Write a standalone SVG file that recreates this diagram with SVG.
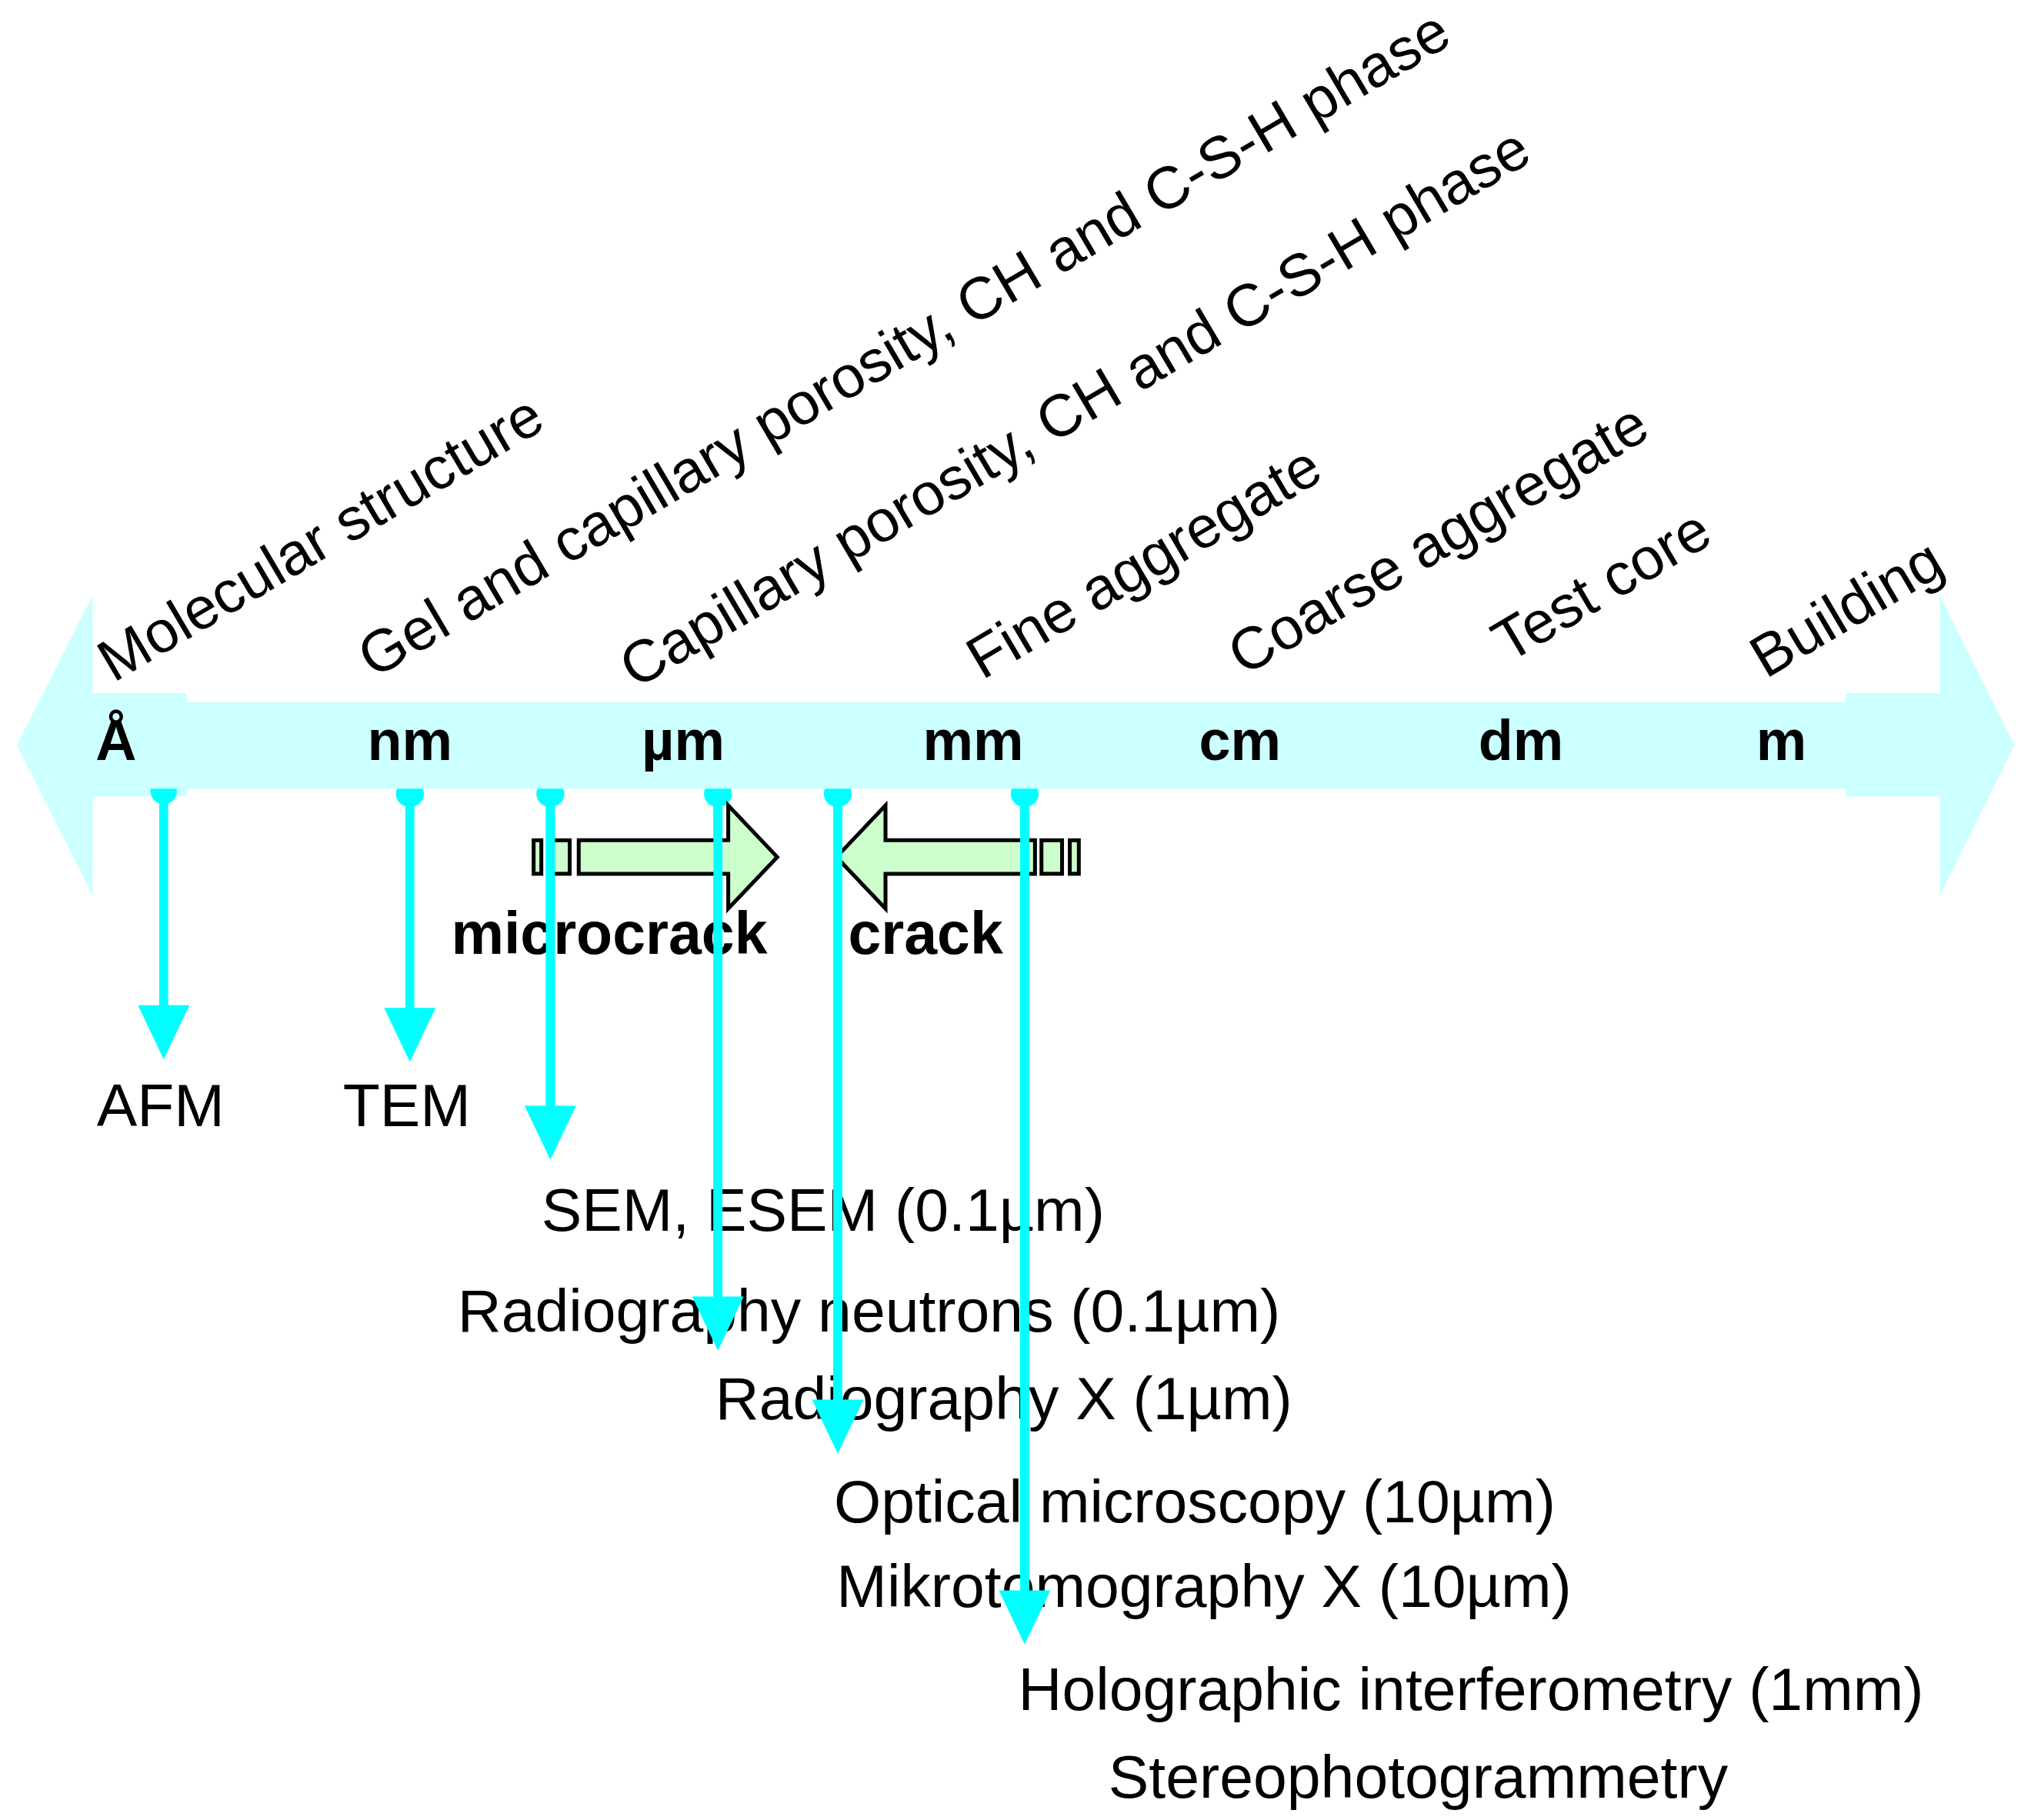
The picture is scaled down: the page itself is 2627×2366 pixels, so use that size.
<svg xmlns="http://www.w3.org/2000/svg" width="2627" height="2366" viewBox="0 0 2627 2366">
<style>
.u{font-family:"Liberation Sans",Arial,sans-serif;font-weight:bold;font-size:44px;fill:#000}
.r{font-family:"Liberation Sans",Arial,sans-serif;font-size:46px;fill:#000}
.m{font-family:"Liberation Sans",Arial,sans-serif;font-size:47px;fill:#000}
.b{font-family:"Liberation Sans",Arial,sans-serif;font-weight:bold;font-size:46px;fill:#000}
.ln{stroke:#00FFFF;stroke-width:7;fill:none}
.hd{fill:#00FFFF}
.g{fill:#CCFFCC;stroke:#000;stroke-width:3}
</style>
<rect width="2627" height="2366" fill="#fff"/>
<g transform="scale(1.6754)">
<g id="scale-bar">
<polygon fill="#CCFFFF" points="13,578 72,462 72,538 145,538 145,545 1432,545 1432,538 1505,538 1505,462 1563,578 1505,695 1505,618 1432,618 1432,612 145,612 145,618 72,618 72,695"/>
<text class="u" x="90" y="590" text-anchor="middle">Å</text>
<text class="u" x="318" y="590" text-anchor="middle">nm</text>
<text class="u" x="530" y="590" text-anchor="middle">µm</text>
<text class="u" x="755" y="590" text-anchor="middle">mm</text>
<text class="u" x="962" y="590" text-anchor="middle">cm</text>
<text class="u" x="1180" y="590" text-anchor="middle">dm</text>
<text class="u" x="1382" y="590" text-anchor="middle">m</text>
</g>
<g id="structure-labels">
<text class="r" transform="translate(88,530) rotate(-30.5)">Molecular structure</text>
<text class="r" transform="translate(290,527) rotate(-30.5)">Gel and capillary porosity, CH and C-S-H phase</text>
<text class="r" transform="translate(493,535) rotate(-30.5)">Capillary porosity, CH and C-S-H phase</text>
<text class="r" transform="translate(762,528) rotate(-30.5)">Fine aggregate</text>
<text class="r" transform="translate(965,525) rotate(-30.5)">Coarse aggregate</text>
<text class="r" transform="translate(1170,515) rotate(-30.5)">Test core</text>
<text class="r" transform="translate(1370,527) rotate(-30.5)">Building</text>
</g>
<g id="methods">
<text class="m" x="75" y="874">AFM</text>
<text class="m" x="266" y="874">TEM</text>
<text class="m" x="420" y="955">SEM, ESEM (0.1µm)</text>
<text class="m" x="355" y="1033">Radiography neutrons (0.1µm)</text>
<text class="m" x="555" y="1101">Radiography X (1µm)</text>
<text class="m" x="647" y="1181">Optical microscopy (10µm)</text>
<text class="m" x="649" y="1247">Mikrotomography X (10µm)</text>
<text class="m" x="790" y="1327">Holographic interferometry (1mm)</text>
<text class="m" x="860" y="1395">Stereophotogrammetry</text>
</g>
<g id="connectors">
<path class="ln" d="M127,614V785M318,614V785M427,614V862M557,614V1010M650,614V1090M795,614V1238"/>
<path class="hd" d="M107,780h40l-20,42zM298,782h40l-20,42zM407,858h40l-20,42zM537,1006h40l-20,42zM630,1086h40l-20,42zM775,1234h40l-20,42z"/>
<path class="hd" d="M117,612h20a10,10 0 0 1-10,12a10,10 0 0 1-10-12zM308,612h20a10,10 0 0 1-10,14a10,10 0 0 1-10-14zM417,612h20a10,10 0 0 1-10,14a10,10 0 0 1-10-14zM547,612h20a10,10 0 0 1-10,14a10,10 0 0 1-10-14zM640,612h20a10,10 0 0 1-10,14a10,10 0 0 1-10-14zM785,612h20a10,10 0 0 1-10,14a10,10 0 0 1-10-14z"/>
</g>
<g id="microcrack">
<rect class="g" x="414" y="652" width="6" height="26"/>
<rect class="g" x="426" y="652" width="16" height="26"/>
<polygon class="g" points="449,652 565,652 565,625 603,665 565,705 565,678 449,678"/>
<text class="b" x="350" y="740">microcrack</text>
</g>
<g id="crack">
<rect class="g" x="830" y="652" width="7" height="26"/>
<rect class="g" x="808" y="652" width="16" height="26"/>
<polygon class="g" points="803,652 687,652 687,625 649,665 687,705 687,678 803,678"/>
<text class="b" x="658" y="740">crack</text>
</g>
<path class="ln" d="M557,614V1010M650,614V1090M795,614V1238M427,614V862"/>
</g>
</svg>
